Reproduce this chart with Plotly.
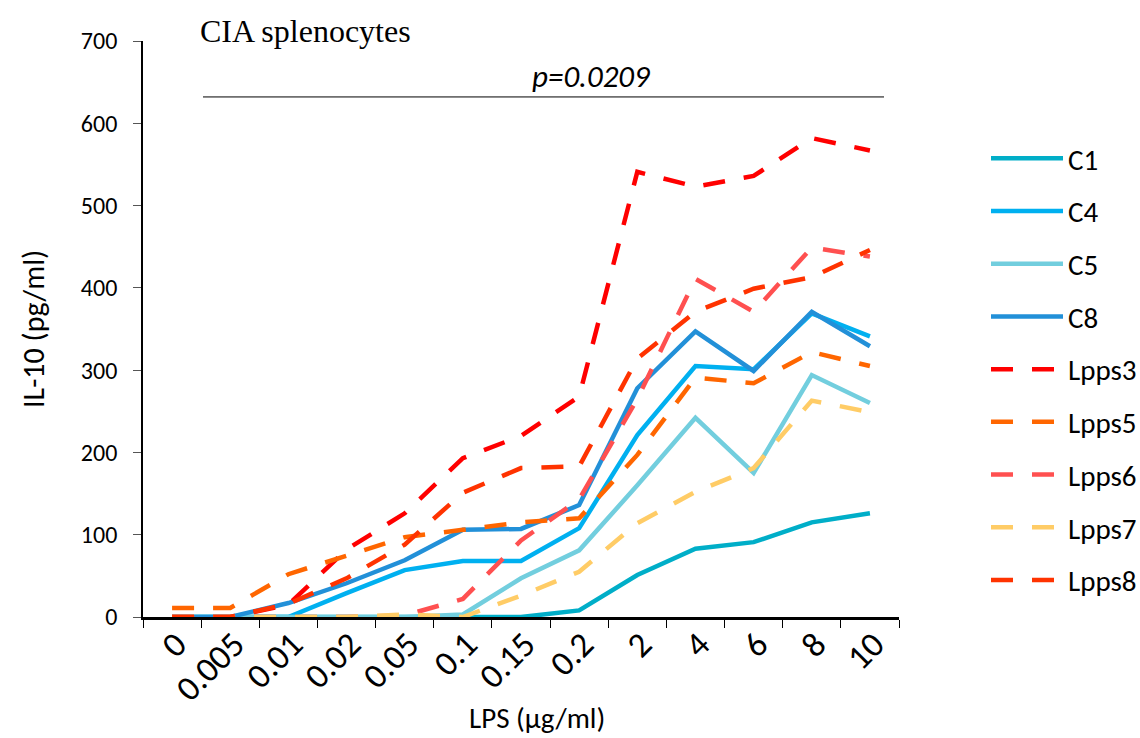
import plotly.graph_objects as go

categories = ["0", "0.005", "0.01", "0.02", "0.05", "0.1", "0.15", "0.2", "2", "4", "6", "8", "10"]

C1 = [0, 0, 0, 0, 0, 0, 0, 8, 51, 83, 91, 115, 126]
C4 = [0, 0, 0, 29, 57, 68, 68, 108, 221, 305, 301, 369, 341]
C5 = [0, 0, 0, 0, 0, 3, 47, 81, 160, 242, 175, 294, 260]
C8 = [0, 0, 17, 41, 69, 106, 107, 136, 278, 347, 299, 371, 329]
Lpps3 = [0, 0, 15, 82, 126, 193, 220, 268, 541, 523, 536, 582, 567]
Lpps5 = [11, 11, 52, 75, 97, 106, 115, 120, 197, 291, 284, 322, 305]
Lpps6 = [0, 0, 0, 0, 2, 22, 93, 143, 265, 411, 371, 449, 438]
Lpps7 = [0, 0, 0, 0, 3, 0, 26, 55, 114, 152, 181, 263, 249]
Lpps8 = [0, 0, 16, 47, 88, 151, 181, 183, 314, 371, 399, 413, 446]

series = [
    ("C1", C1, "#00AEC8", "solid"),
    ("C4", C4, "#00B0F0", "solid"),
    ("C5", C5, "#72CEDE", "solid"),
    ("C8", C8, "#2290D8", "solid"),
    ("Lpps3", Lpps3, "#FF0000", "22px,19px"),
    ("Lpps5", Lpps5, "#FF6600", "22px,19px"),
    ("Lpps6", Lpps6, "#FF5050", "22px,19px"),
    ("Lpps7", Lpps7, "#FFCC66", "22px,19px"),
    ("Lpps8", Lpps8, "#FF3300", "22px,19px"),
]

FONT = "Carlito, Lato, sans-serif"

fig = go.Figure()
for name, vals, color, dash in series:
    fig.add_trace(go.Scatter(
        x=categories, y=vals, name=name, mode="lines", legendgroup=name,
        line=dict(color=color, width=4.5, dash=dash),
    ))

W, H = 1140, 738
L, R, T, B = 143, 899, 41, 617

fig.update_layout(
    width=W, height=H,
    margin=dict(l=L, r=W - R, t=T, b=H - B, autoexpand=False),
    plot_bgcolor="white", paper_bgcolor="white",
    font=dict(family=FONT, color="black"),
    showlegend=True,
    legend=dict(
        x=(986 - L) / (R - L), y=(B - 133) / (B - T), xanchor="left", yanchor="top",
        font=dict(size=29, family=FONT, color="black"),
        tracegroupgap=12, itemwidth=72, bgcolor="rgba(0,0,0,0)",
    ),
    xaxis=dict(
        type="category", categoryorder="array", categoryarray=categories,
        range=[-0.5, 12.5], showline=True, linecolor="black", linewidth=2.5,
        ticks="outside", tickson="boundaries", ticklen=8, tickwidth=1.3, tickcolor="black",
        tickangle=-45, tickfont=dict(size=35, family=FONT, color="black"),
        ticklabelstandoff=-10, ticklabelshift=4,
        showgrid=False, zeroline=False, automargin=False,
    ),
    yaxis=dict(
        range=[0, 700], dtick=100, showline=True, linecolor="black", linewidth=1.8,
        ticks="outside", ticklen=8, tickwidth=1.3, tickcolor="#555555",
        tickfont=dict(size=24, family=FONT, color="black"),
        ticklabelstandoff=11,
        showgrid=False, zeroline=False, automargin=False,
    ),
)

# significance line and p-value
fig.add_shape(type="line", xref="paper", yref="y",
              x0=(203 - L) / (R - L), x1=(884 - L) / (R - L), y0=632, y1=632,
              line=dict(color="black", width=1))
fig.add_annotation(text="<i>p=0.0209</i>", xref="paper", yref="y",
                   x=(591 - L) / (R - L), y=658, showarrow=False,
                   font=dict(size=31, family=FONT, color="black"))
fig.add_annotation(text="CIA splenocytes", xref="paper", yref="paper",
                   x=(198 - L) / (R - L), y=(B - 31) / (B - T), xanchor="left", yanchor="middle",
                   showarrow=False, font=dict(size=32, family="Liberation Serif, Times New Roman, serif", color="black"))
fig.add_annotation(text="IL-10 (pg/ml)", xref="paper", yref="paper", textangle=-90,
                   x=(33 - L) / (R - L), y=0.5, xanchor="center", yanchor="middle",
                   showarrow=False, font=dict(size=30, family=FONT, color="black"))
fig.add_annotation(text="LPS (µg/ml)", xref="paper", yref="paper",
                   x=(537 - L) / (R - L), y=(B - 718) / (B - T), xanchor="center", yanchor="middle",
                   showarrow=False, font=dict(size=29, family=FONT, color="black"))

fig.write_html("out.html")
